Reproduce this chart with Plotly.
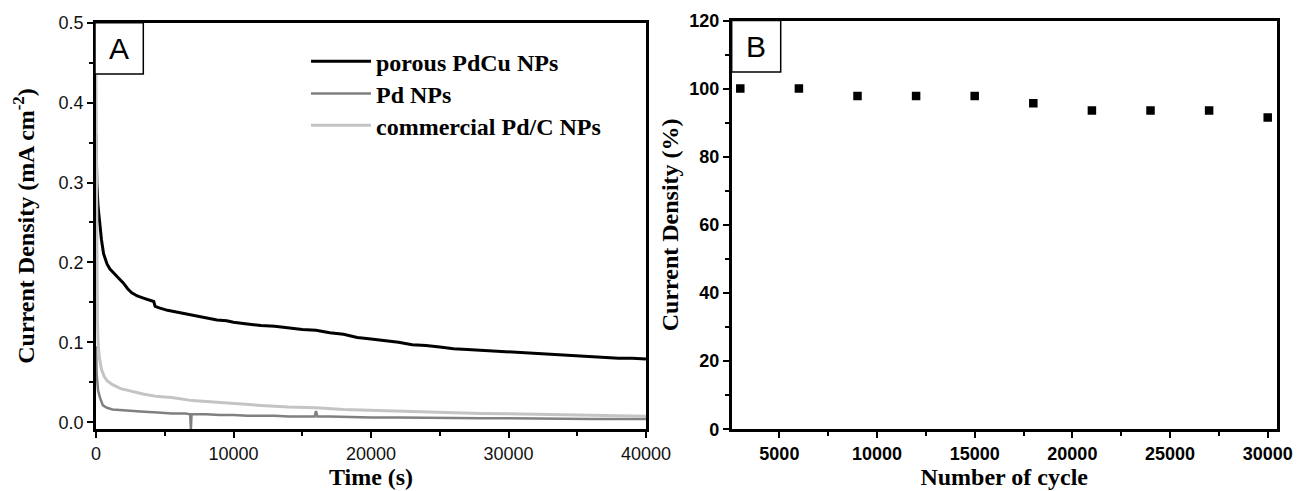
import plotly.graph_objects as go

# ---------------- Panel A data: chronoamperometry ----------------
t_pdcu = [0, 60, 150, 250, 400, 550, 800, 1000, 1300, 1600, 2000, 2300, 2600, 3000, 3500,
          4000, 4200, 4300, 4600, 5200, 5800, 6600, 7300, 8000, 8800, 9500, 10000, 11000,
          12000, 13000, 14000, 15000, 16000, 17000, 18000, 19000, 20000, 21000, 22000, 23000,
          24000, 25000, 26000, 27000, 28000, 29000, 30000, 31000, 32000, 33000, 34000, 35000,
          36000, 37000, 38000, 39000, 40000]
j_pdcu = [0.36, 0.30, 0.27, 0.25, 0.228, 0.211, 0.198, 0.192, 0.186, 0.181, 0.174, 0.167, 0.162,
          0.158, 0.155, 0.152, 0.151, 0.145, 0.143, 0.140, 0.138, 0.135, 0.133, 0.131, 0.128,
          0.127, 0.125, 0.123, 0.121, 0.120, 0.118, 0.116, 0.115, 0.112, 0.110, 0.106, 0.104,
          0.102, 0.100, 0.097, 0.096, 0.094, 0.092, 0.091, 0.090, 0.089, 0.088, 0.087, 0.086,
          0.085, 0.084, 0.083, 0.082, 0.081, 0.080, 0.080, 0.079]

t_pd = [0, 50, 150, 300, 500, 800, 1200, 1800, 2500, 3500, 4500, 5500, 6500, 6850, 6900, 6950,
        8000, 9000, 10000, 11000, 12000, 13000, 14000, 15000, 15900, 16000, 16100, 17000, 18000,
        20000, 22000, 24000, 26000, 28000, 30000, 32000, 34000, 36000, 38000, 40000]
j_pd = [0.095, 0.060, 0.040, 0.030, 0.021, 0.018, 0.016, 0.015, 0.014, 0.013, 0.012, 0.011,
        0.011, 0.010, -0.009, 0.010, 0.010, 0.009, 0.009, 0.008, 0.008, 0.008, 0.007, 0.007,
        0.007, 0.014, 0.007, 0.007, 0.0065, 0.006, 0.006, 0.0055, 0.005, 0.005, 0.005, 0.0045,
        0.0045, 0.004, 0.004, 0.004]

t_pdc = [0, 20, 50, 100, 150, 250, 400, 600, 800, 1200, 1800, 2500, 3500, 4500, 5500, 7000,
         8500, 10000, 12000, 14000, 16000, 18000, 20000, 22000, 24000, 26000, 28000, 30000,
         32000, 34000, 36000, 38000, 40000]
j_pdc = [0.435, 0.30, 0.20, 0.13, 0.10, 0.080, 0.066, 0.057, 0.052, 0.047, 0.042, 0.039, 0.035,
         0.032, 0.031, 0.027, 0.025, 0.023, 0.021, 0.019, 0.018, 0.016, 0.015, 0.0135, 0.013,
         0.012, 0.011, 0.0105, 0.010, 0.009, 0.0085, 0.008, 0.0075]

# ---------------- Panel B data: retention ----------------
cycles = [3000, 6000, 9000, 12000, 15000, 18000, 21000, 24000, 27000, 30000]
retention = [100, 100, 97.8, 97.8, 97.8, 95.7, 93.6, 93.6, 93.6, 91.5]

# tick labels
a_xticks = [0, 10000, 20000, 30000, 40000]
a_xlabels = ["0", "10000", "20000", "30000", "40000"]
a_yticks = [0, 0.1, 0.2, 0.3, 0.4, 0.5]
a_ylabels = ["0.0", "0.1", "0.2", "0.3", "0.4", "0.5"]
b_xticks = [5000, 10000, 15000, 20000, 25000, 30000]
b_xlabels = ["5000", "10000", "15000", "20000", "25000", "30000"]
b_yticks = [0, 20, 40, 60, 80, 100, 120]
b_ylabels = ["0", "20", "40", "60", "80", "100", "120"]

names = ["porous PdCu NPs", "Pd NPs", "commercial Pd/C NPs"]
colors = ["#000000", "#808080", "#c4c4c4"]

W, H = 1297, 491
SERIF = "Liberation Serif, Times New Roman, serif"
SANS = "Liberation Sans, Arial, sans-serif"

fig = go.Figure()
legend_ids = ["legend", "legend2", "legend3"]
for t, j, n, c, w, lg in [(t_pdcu, j_pdcu, names[0], colors[0], 3, legend_ids[0]),
                          (t_pd, j_pd, names[1], colors[1], 2.5, legend_ids[1]),
                          (t_pdc, j_pdc, names[2], colors[2], 3, legend_ids[2])]:
    fig.add_trace(go.Scatter(x=t, y=j, mode="lines", name=n, legend=lg,
                             line=dict(color=c, width=w), xaxis="x", yaxis="y"))

fig.add_trace(go.Scatter(x=cycles, y=retention, mode="markers", showlegend=False,
                         marker=dict(symbol="square", size=8.5, color="black"),
                         xaxis="x2", yaxis="y2"))

axis_common = dict(showline=True, linewidth=2.5, linecolor="black", mirror=True,
                   showgrid=False, zeroline=False, ticks="outside", ticklen=6,
                   tickwidth=2, tickcolor="black", automargin=False)
title_font = dict(family=SERIF, size=24, color="black", weight="bold")
legend_font = dict(family=SERIF, size=24, color="black", weight="bold")


def legend_at(row_y):
    return dict(x=306 / W, y=1 - row_y / H, xanchor="left", yanchor="middle",
                bgcolor="rgba(0,0,0,0)", borderwidth=0, itemwidth=60, font=legend_font)


fig.update_layout(
    width=W, height=H,
    margin=dict(l=0, r=0, t=0, b=0),
    paper_bgcolor="white", plot_bgcolor="white",
    xaxis=dict(domain=[96 / W, 646 / W], anchor="y", range=[0, 40000],
               tickvals=a_xticks, ticktext=a_xlabels,
               minor=dict(dtick=5000, ticks="outside", ticklen=4, tickwidth=2, tickcolor="black"),
               tickfont=dict(family=SANS, size=18, color="#111"),
               title=dict(text="Time (s)", font=title_font, standoff=6),
               **axis_common),
    yaxis=dict(domain=[(H - 429.3) / H, (H - 22.7) / H], anchor="x", range=[-0.0089, 0.5],
               tickvals=a_yticks, ticktext=a_ylabels,
               minor=dict(dtick=0.05, ticks="outside", ticklen=4, tickwidth=2, tickcolor="black"),
               tickfont=dict(family=SANS, size=18, color="#111"),
               title=dict(text="Current Density (mA cm<sup>-2</sup>)", font=title_font, standoff=18),
               **axis_common),
    xaxis2=dict(domain=[731.7 / W, 1276.7 / W], anchor="y2", range=[2560, 30460],
                tickvals=b_xticks, ticktext=b_xlabels,
                minor=dict(tick0=2500, dtick=2500, ticks="outside", ticklen=4, tickwidth=2, tickcolor="black"),
                tickfont=dict(family=SANS, size=18, color="black", weight="bold"),
                title=dict(text="Number of cycle", font=title_font, standoff=6),
                **axis_common),
    yaxis2=dict(domain=[(H - 429.2) / H, (H - 20.5) / H], anchor="x2", range=[0, 120],
                tickvals=b_yticks, ticktext=b_ylabels,
                minor=dict(dtick=10, ticks="outside", ticklen=4, tickwidth=2, tickcolor="black"),
                tickfont=dict(family=SANS, size=18, color="black", weight="bold"),
                title=dict(text="Current Density (%)", font=title_font, standoff=4),
                **axis_common),
    legend=legend_at(61.7),
    legend2=legend_at(94),
    legend3=legend_at(125.7),
    showlegend=True,
)

# Panel letter boxes
for (x0, x1, y0, y1, letter) in [(95, 143.3, 22.7, 74, "A"), (731.7, 780.7, 20.5, 72, "B")]:
    fig.add_shape(type="rect", xref="paper", yref="paper",
                  x0=x0 / W, x1=x1 / W, y0=1 - y1 / H, y1=1 - y0 / H,
                  line=dict(color="black", width=1.5), fillcolor="white", layer="above")
    fig.add_annotation(xref="paper", yref="paper", x=(x0 + x1) / 2 / W, y=1 - (y0 + y1) / 2 / H,
                       text=letter, showarrow=False, xanchor="center", yanchor="middle",
                       font=dict(family=SANS, size=30, color="black"))

fig.write_html("out.html", config={"displayModeBar": False},
               post_script="document.body.style.margin='0';document.body.style.overflow='hidden';")
